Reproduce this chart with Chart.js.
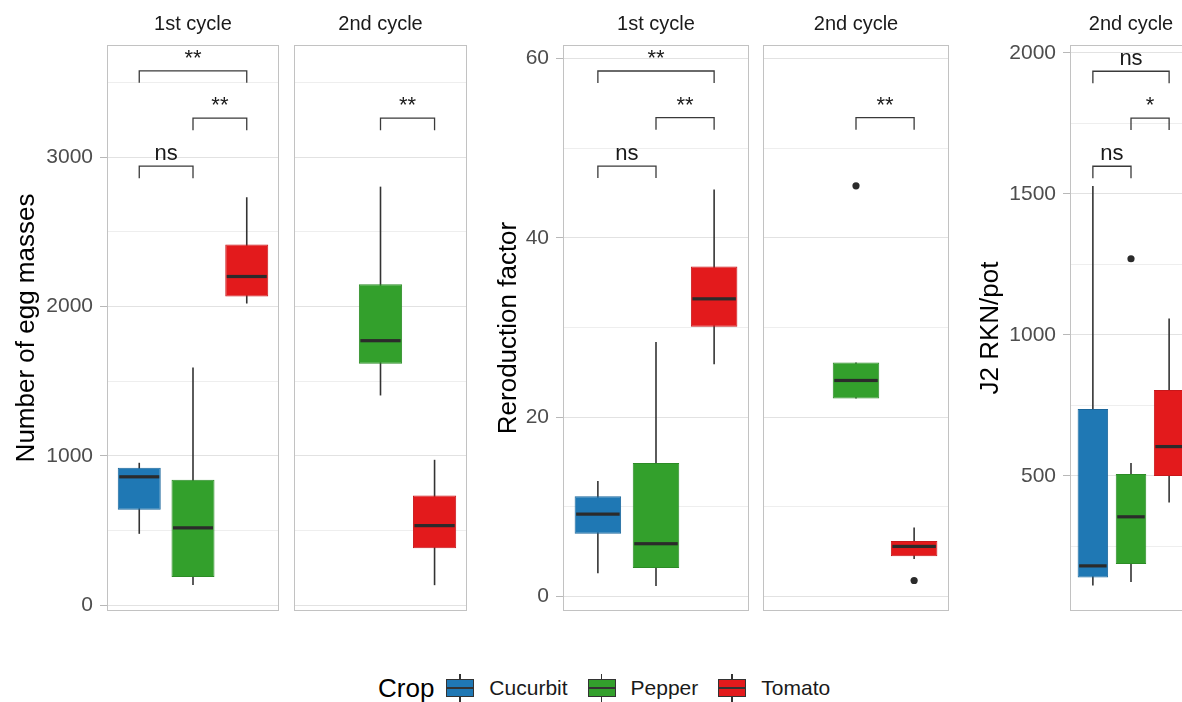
<!DOCTYPE html>
<html>
<head>
<meta charset="utf-8">
<script src="https://cdn.jsdelivr.net/npm/chart.js@4.4.1/dist/chart.umd.min.js"></script>
<style>
  html, body { margin: 0; padding: 0; background: #fff; }
  body { width: 1182px; height: 702px; overflow: hidden; position: relative;
         font-family: "Liberation Sans", Arial, sans-serif; }
  canvas { position: absolute; top: 0; }
  #legend { position: absolute; left: 378px; top: 670px; height: 36px;
            display: flex; align-items: center; white-space: nowrap; }
  #legend .ltitle { font-size: 26px; color: #000; margin-right: 12px; }
  #legend .lab { font-size: 21px; color: #1a1a1a; margin-left: 15px; margin-right: 20px; }
  #legend .key { position: relative; width: 28px; height: 28px; display: inline-block; }
  #legend .key i { position: absolute; left: 13px; top: 0; width: 1.6px; height: 28px; background: #333; }
  #legend .key b { position: absolute; left: 0; top: 5px; width: 28px; height: 18px; box-sizing: border-box;
                   border: 1px solid #333; }
  #legend .key u { position: absolute; left: 1px; top: 12.5px; width: 26px; height: 2.5px; background: #333; }
</style>
</head>
<body>
<canvas id="eggFirst" width="290" height="640" style="left:0px"></canvas>
<canvas id="eggSecond" width="190" height="640" style="left:285px"></canvas>
<canvas id="rfFirst" width="280" height="640" style="left:480px"></canvas>
<canvas id="rfSecond" width="200" height="640" style="left:755px"></canvas>
<canvas id="j2Second" width="240" height="640" style="left:960px"></canvas>
<div id="legend"></div>
<script>
const crops = ["Cucurbit", "Pepper", "Tomato"];

// per crop: [lower whisker, Q1, median, Q3, upper whisker], null = not grown
const eggFirst = [[477, 638, 859, 919, 953], [134, 188, 517, 839, 1591], [2020, 2067, 2201, 2416, 2732]];
const eggSecond = [null, [1404, 1617, 1771, 2149, 2803], [133, 380, 532, 734, 973]];
const rfFirst = [[2.6, 7.0, 9.2, 11.2, 12.9], [1.2, 3.2, 5.9, 14.9, 28.4], [25.9, 30.1, 33.2, 36.8, 45.4]];
const rfSecond = [null, [22.1, 22.1, 24.1, 26.1, 26.1], [4.2, 4.5, 5.6, 6.2, 7.7]];
const rfSecondOutliers = [[], [45.8], [1.8]];
const j2Second = [[111, 140, 181, 737, 1528], [124, 188, 355, 507, 546], [406, 500, 604, 805, 1058]];
const j2SecondOutliers = [[], [1270], []];

// significance brackets: [from crop, to crop, bracket level, label]
const eggFirstSig = [[1, 3, 3579, "**"], [2, 3, 3262, "**"], [1, 2, 2940, "ns"]];
const eggSecondSig = [[2, 3, 3262, "**"]];
const rfFirstSig = [[1, 3, 58.6, "**"], [2, 3, 53.4, "**"], [1, 2, 48.0, "ns"]];
const rfSecondSig = [[2, 3, 53.4, "**"]];
const j2SecondSig = [[1, 3, 1935, "ns"], [2, 3, 1769, "*"], [1, 2, 1598, "ns"]];

// y axes: range, labelled ticks, minor grid lines
const eggRange = [-40, 3752];
const eggTicks = [0, 1000, 2000, 3000];
const eggMinor = [500, 1500, 2500, 3500];
const rfRange = [-1.6, 61.5];
const rfTicks = [0, 20, 40, 60];
const rfMinor = [10, 30, 50];
const j2Range = [21, 2028];
const j2Ticks = [500, 1000, 1500, 2000];
const j2Minor = [250, 750, 1250, 1750];

const fills = ["#1F78B4", "#33A02C", "#E31A1C"];
const edges = ["#1b679c", "#2c8c26", "#c8171a"];
const FONT = '"Liberation Sans", Arial, sans-serif';
Chart.defaults.font.family = FONT;

function boxDatasets(stats, outliers) {
  const sets = [];
  stats.forEach((s, i) => {
    if (!s) return;
    sets.push({
      type: "bar", label: crops[i] + " whiskers",
      data: [{ x: i + 1, y: [s[0], s[4]] }],
      backgroundColor: "#333333", maxBarThickness: 1.6, grouped: false, order: 3
    });
    sets.push({
      type: "bar", label: crops[i],
      data: [{ x: i + 1, y: [s[1], s[3]] }],
      median: s[2],
      backgroundColor: fills[i], borderColor: edges[i], borderWidth: 1, borderSkipped: false,
      barPercentage: 0.8, categoryPercentage: 1, grouped: false, order: 2
    });
    const out = outliers ? outliers[i] : [];
    if (out.length) {
      sets.push({
        type: "scatter", label: crops[i] + " outliers",
        data: out.map(v => ({ x: i + 1, y: v })),
        pointRadius: 3.6, backgroundColor: "#2b2b2b", borderWidth: 0, order: 1
      });
    }
  });
  return sets;
}

// medians, panel border and significance brackets
function decor(sig) {
  return {
    id: "decor",
    afterDatasetsDraw(chart) {
      const { ctx, chartArea: a, scales: { x, y } } = chart;
      ctx.save();
      chart.data.datasets.forEach((ds, i) => {
        if (ds.median === undefined) return;
        const bar = chart.getDatasetMeta(i).data[0];
        const py = y.getPixelForValue(ds.median);
        ctx.fillStyle = "#2b2b2b";
        ctx.fillRect(bar.x - bar.width / 2 + 1.5, py - 1.6, bar.width - 3, 3.2);
      });
      ctx.strokeStyle = "#c2c2c2";
      ctx.lineWidth = 1;
      ctx.strokeRect(Math.round(a.left) + 0.5, Math.round(a.top) + 0.5,
        Math.round(a.right - a.left) - 1, Math.round(a.bottom - a.top) - 1);

      ctx.strokeStyle = "#3a3a3a";
      ctx.lineWidth = 1.3;
      ctx.fillStyle = "#1a1a1a";
      ctx.font = "22px " + FONT;
      ctx.textAlign = "center";
      ctx.textBaseline = "alphabetic";
      sig.forEach(([from, to, level, label]) => {
        const x1 = x.getPixelForValue(from), x2 = x.getPixelForValue(to);
        const py = y.getPixelForValue(level);
        ctx.beginPath();
        ctx.moveTo(x1, py + 12);
        ctx.lineTo(x1, py);
        ctx.lineTo(x2, py);
        ctx.lineTo(x2, py + 12);
        ctx.stroke();
        ctx.fillText(label, (x1 + x2) / 2, py - 6);
      });
      ctx.restore();
    }
  };
}

function yAxis(range, major, minor, title, axisWidth, titlePad) {
  const labelled = !!title;
  const isMajor = c => c.tick && major.includes(c.tick.value);
  return {
    min: range[0], max: range[1],
    afterBuildTicks: s => {
      s.ticks = major.concat(minor).sort((p, q) => p - q).map(v => ({ value: v }));
    },
    afterFit: s => { s.width = axisWidth; },
    border: { display: false },
    grid: {
      color: c => (isMajor(c) ? "#e2e2e2" : "#eeeeee"),
      tickColor: c => (isMajor(c) ? "#b8b8b8" : "rgba(0,0,0,0)"),
      drawTicks: labelled, tickLength: 7, lineWidth: 1
    },
    ticks: {
      display: labelled, autoSkip: false,
      padding: 7, color: "#4d4d4d", font: { size: 21 },
      callback: v => (major.includes(v) ? String(v) : "")
    },
    title: {
      display: labelled, text: title, color: "#000",
      font: { size: 26 }, padding: { top: titlePad || 0, bottom: 0 }
    }
  };
}

function panel(id, strip, stats, outliers, sig, yOpts, pad) {
  new Chart(document.getElementById(id), {
    type: "bar",
    data: { datasets: boxDatasets(stats, outliers) },
    options: {
      responsive: false, animation: false, events: [],
      layout: { padding: { left: pad[0], right: pad[1], top: 0, bottom: 29 } },
      scales: {
        x: { type: "linear", min: 0.4, max: 3.6, offset: false, display: false,
             ticks: { stepSize: 1, includeBounds: false } },
        y: yOpts
      },
      plugins: {
        legend: { display: false },
        tooltip: { enabled: false },
        title: {
          display: true, text: strip, fullSize: false, color: "#1a1a1a",
          font: { size: 20, weight: "normal" }, padding: { top: 12, bottom: 9 }
        }
      }
    },
    plugins: [decor(sig)]
  });
}

panel("eggFirst", "1st cycle", eggFirst, null, eggFirstSig,
  yAxis(eggRange, eggTicks, eggMinor, "Number of egg masses", 107, 11), [0, 11]);
panel("eggSecond", "2nd cycle", eggSecond, null, eggSecondSig,
  yAxis(eggRange, eggTicks, eggMinor, "", 0), [9, 8]);
panel("rfFirst", "1st cycle", rfFirst, null, rfFirstSig,
  yAxis(rfRange, rfTicks, rfMinor, "Reroduction factor", 83, 13), [0, 11]);
panel("rfSecond", "2nd cycle", rfSecond, rfSecondOutliers, rfSecondSig,
  yAxis(rfRange, rfTicks, rfMinor, "", 0), [8, 6]);
panel("j2Second", "2nd cycle", j2Second, j2SecondOutliers, j2SecondSig,
  yAxis(j2Range, j2Ticks, j2Minor, "J2 RKN/pot", 110, 15), [0, 8]);

// shared legend
const legend = document.getElementById("legend");
legend.innerHTML = '<span class="ltitle">Crop</span>' + crops.map((c, i) =>
  '<span class="key"><i></i><b style="background:' + fills[i] + '"></b><u></u></span>' +
  '<span class="lab">' + c + '</span>').join("");
</script>
</body>
</html>
